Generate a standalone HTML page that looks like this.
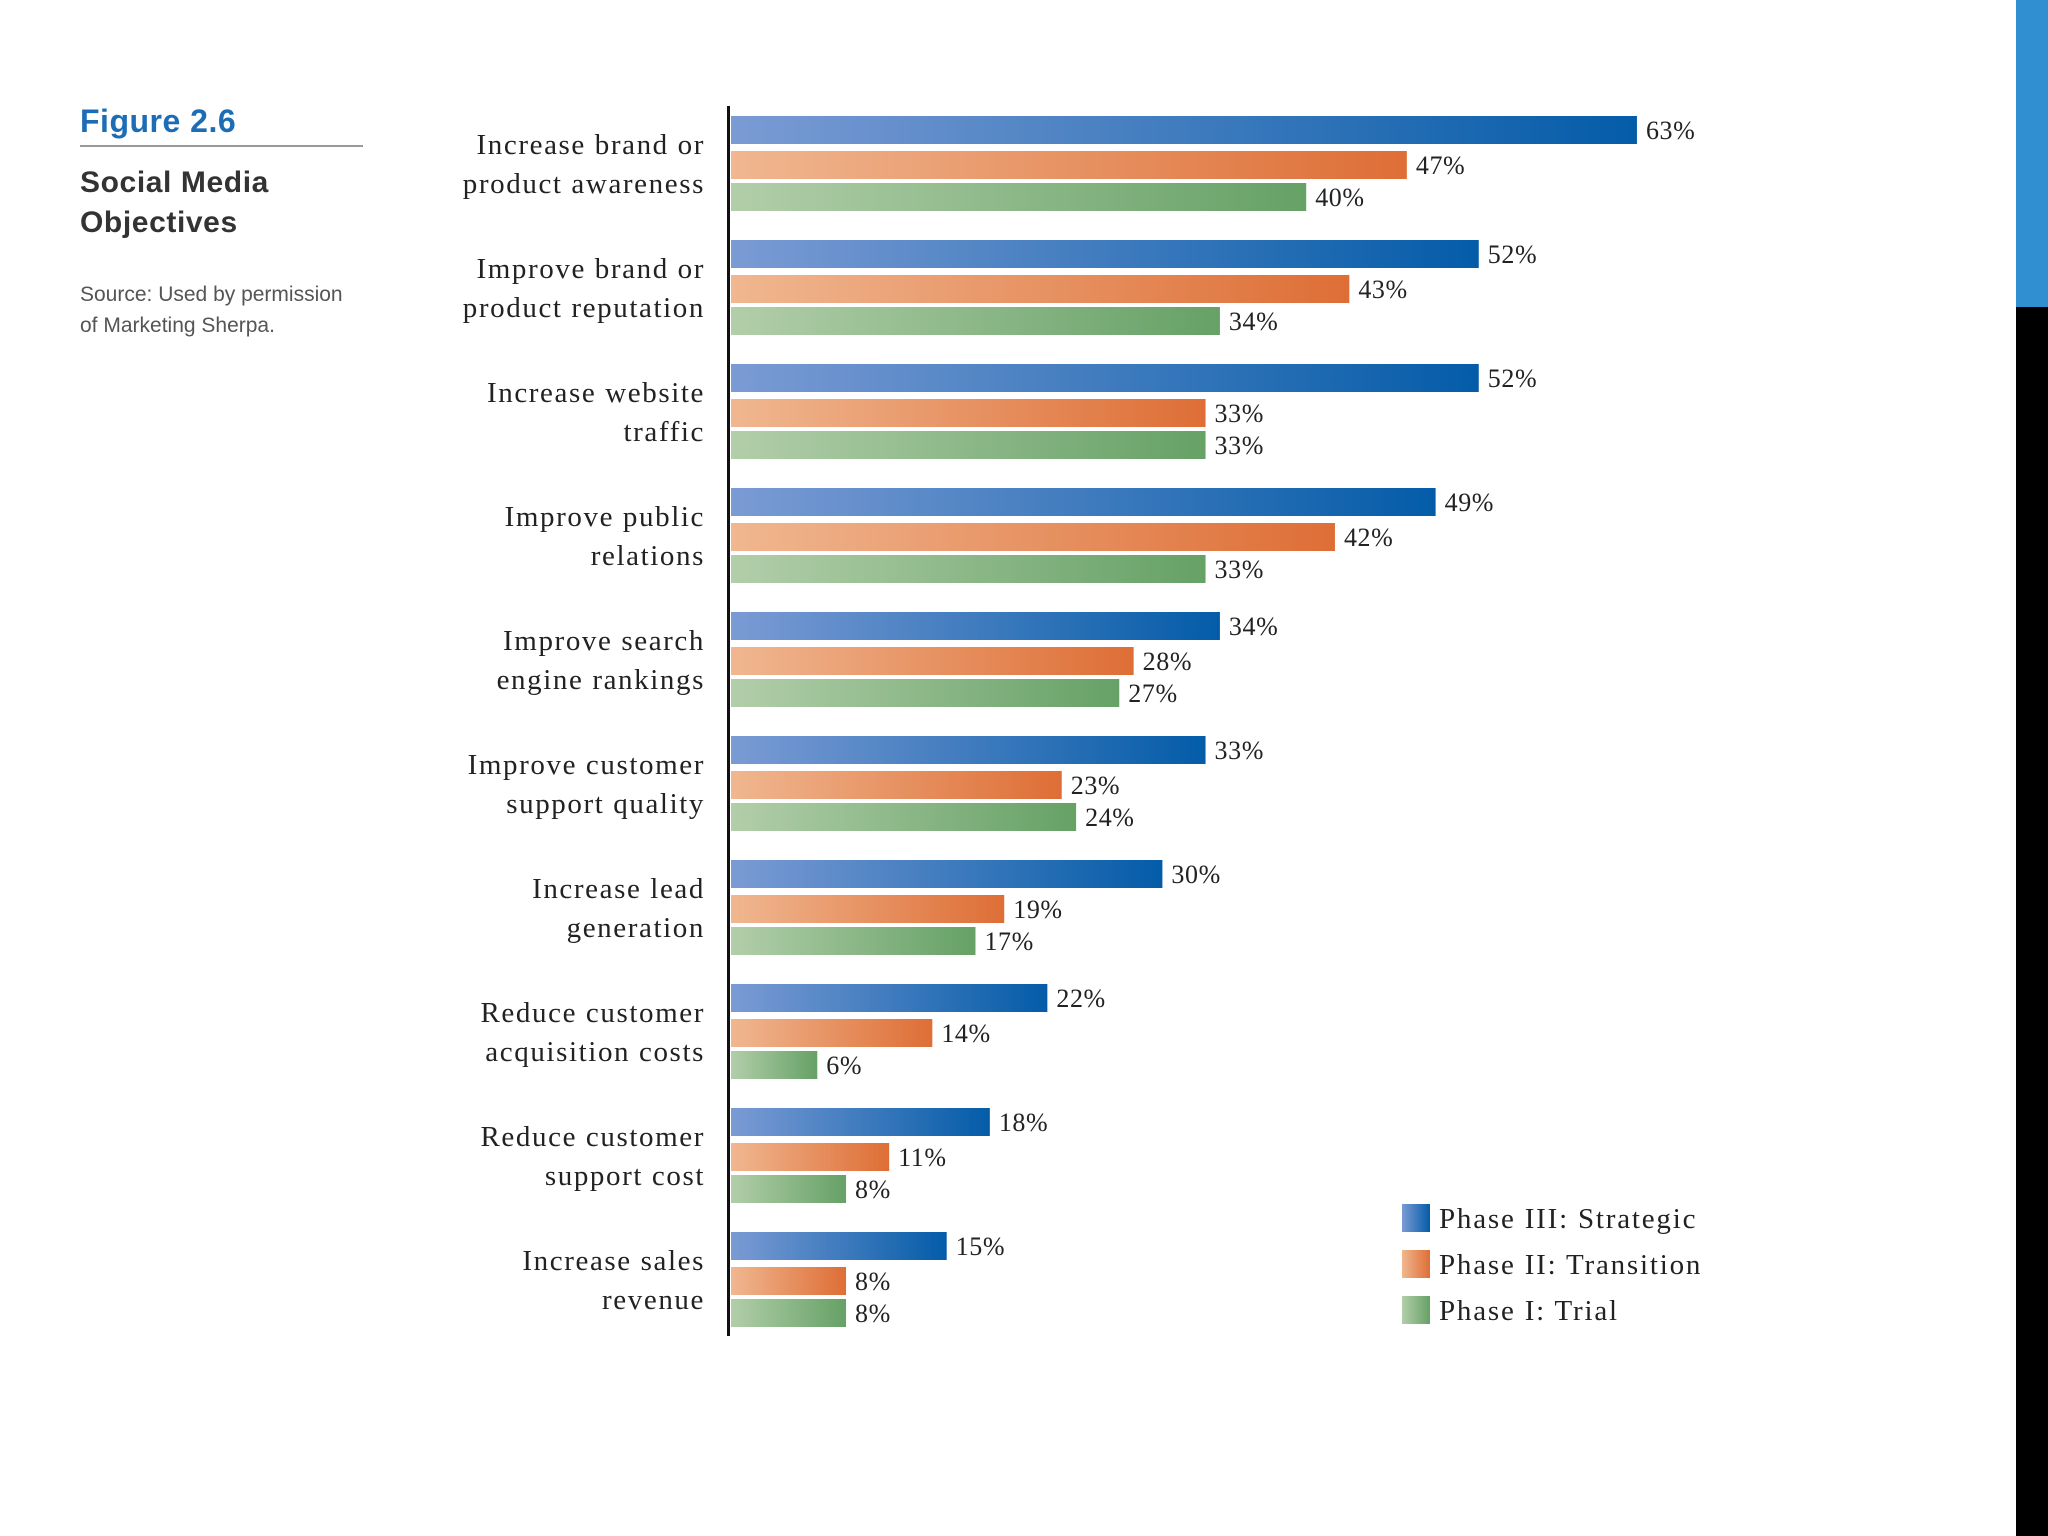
<!DOCTYPE html>
<html><head><meta charset="utf-8"><style>
html,body{margin:0;padding:0;background:#fff;}
svg{display:block;}
</style></head>
<body>
<svg id="chart" width="2048" height="1536" viewBox="0 0 2048 1536" xmlns="http://www.w3.org/2000/svg">
<defs>
<linearGradient id="gB" x1="0" x2="1"><stop offset="0" stop-color="#7b9bd4"/><stop offset="1" stop-color="#045ca8"/></linearGradient>
<linearGradient id="gO" x1="0" x2="1"><stop offset="0" stop-color="#f0b790"/><stop offset="1" stop-color="#de6e36"/></linearGradient>
<linearGradient id="gG" x1="0" x2="1"><stop offset="0" stop-color="#b2ceaa"/><stop offset="1" stop-color="#66a166"/></linearGradient>
</defs>
<rect x="2016" y="0" width="32" height="307" fill="#2f8fd0"/>
<rect x="2016" y="307" width="32" height="1229" fill="#000"/>
<text x="80" y="132" font-family="Liberation Sans, sans-serif" font-weight="bold" font-size="32" letter-spacing="0.5" fill="#1c6db5">Figure 2.6</text>
<rect x="80" y="145" width="283" height="2" fill="#999"/>
<text font-family="Liberation Sans, sans-serif" font-weight="bold" font-size="30" letter-spacing="0.6" fill="#333"><tspan x="80" y="192">Social Media</tspan><tspan x="80" y="232">Objectives</tspan></text>
<text font-family="Liberation Sans, sans-serif" font-size="21" fill="#555"><tspan x="80" y="301">Source: Used by permission</tspan><tspan x="80" y="332">of Marketing Sherpa.</tspan></text>
<rect x="727" y="106" width="3" height="1230" fill="#111"/>
<g id="bars"></g>
<g id="legend"></g>
</svg>
<script>
const categories = [
  ["Increase brand or","product awareness"],
  ["Improve brand or","product reputation"],
  ["Increase website","traffic"],
  ["Improve public","relations"],
  ["Improve search","engine rankings"],
  ["Improve customer","support quality"],
  ["Increase lead","generation"],
  ["Reduce customer","acquisition costs"],
  ["Reduce customer","support cost"],
  ["Increase sales","revenue"]
];
const strategic = [63,52,52,49,34,33,30,22,18,15];
const transition = [47,43,33,42,28,23,19,14,11,8];
const trial = [40,34,33,33,27,24,17,6,8,8];
const seriesNames = ["Phase III: Strategic","Phase II: Transition","Phase I: Trial"];

const NS = "http://www.w3.org/2000/svg";
const x0 = 731, pxPer = 14.38;
function xScale(v){ return x0 + v * pxPer; }
function groupTop(i){ return 116 + i * 124; }
const barOff = [0, 35, 67], barH = 28;
const fills = ["url(#gB)","url(#gO)","url(#gG)"];
const keys = ["strategic","transition","trial"];
const series = [strategic, transition, trial];
const g = document.getElementById("bars");
function mk(tag, attrs){ const e = document.createElementNS(NS, tag); for (const k in attrs) e.setAttribute(k, attrs[k]); return e; }
categories.forEach((cat, i) => {
  const top = groupTop(i);
  const cy = top + 48;
  const t = mk("text", {x:705, "text-anchor":"end", "font-family":"Liberation Serif, serif", "font-size":"29", "letter-spacing":"1.6", fill:"#222"});
  
  
  cat.forEach((line, j) => {
    const ts = mk("tspan", {x:705, y: cy - 10 + j * 39});
    ts.textContent = line;
    t.appendChild(ts);
  });
  g.appendChild(t);
  series.forEach((arr, s) => {
    const y = top + barOff[s];
    const r = mk("rect", {x:x0, y:y, width: xScale(arr[i]) - x0, height: barH, fill: fills[s]});
    
    
    g.appendChild(r);
    const v = mk("text", {x: xScale(arr[i]) + 9, y: y + 23, "font-family":"Liberation Serif, serif", "font-size":"26", "letter-spacing":"0.6", fill:"#222"});
    
    
    v.textContent = arr[i] + "%";
    g.appendChild(v);
  });
});
const lg = document.getElementById("legend");
seriesNames.forEach((name, s) => {
  const y = 1204 + s * 46;
  const r = mk("rect", {x:1402, y:y, width:28, height:28, fill: fills[s]});
  
  
  lg.appendChild(r);
  const t = mk("text", {x:1439, y:y + 24, "font-family":"Liberation Serif, serif", "font-size":"29", "letter-spacing":"1.8", fill:"#222"});
  
  
  t.textContent = name;
  lg.appendChild(t);
});
</script>
</body></html>
